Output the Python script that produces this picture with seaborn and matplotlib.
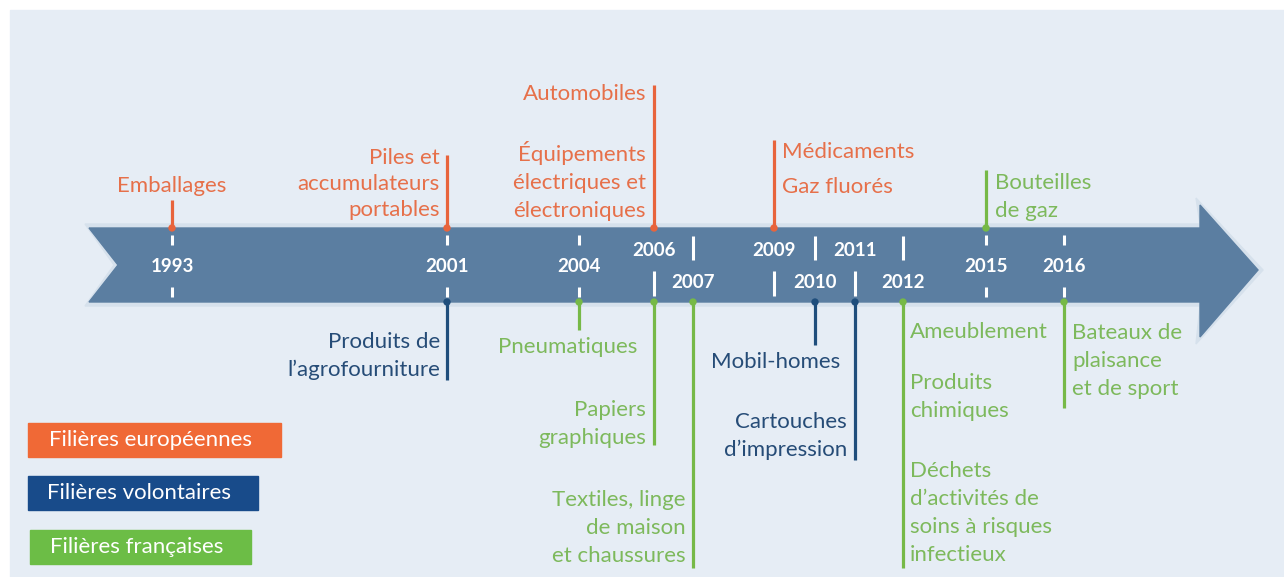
import matplotlib
matplotlib.use("Agg")
import matplotlib.pyplot as plt
from matplotlib.patches import Polygon, Rectangle
import pandas as pd
import seaborn as sns

# ---- data ------------------------------------------------------------------
years = [1993, 2001, 2004, 2006, 2007, 2009, 2010, 2011, 2012, 2015, 2016]

categories = ["Filières européennes", "Filières volontaires", "Filières françaises"]

# one stem per (year, side of the arrow)
stem_years = [1993, 2001, 2006, 2009, 2015, 2001, 2004, 2006, 2007, 2010, 2011, 2012, 2016]
stem_sides = ["up", "up", "up", "up", "up",
              "down", "down", "down", "down", "down", "down", "down", "down"]
stem_cats = ["Filières européennes"] * 4 + ["Filières françaises",
             "Filières volontaires", "Filières françaises", "Filières françaises",
             "Filières françaises", "Filières volontaires", "Filières volontaires",
             "Filières françaises", "Filières françaises"]

label_years = [1993, 2001, 2006, 2006, 2009, 2009, 2015,
               2001, 2004, 2006, 2007, 2010, 2011, 2012, 2012, 2012, 2016]
label_cats = ["Filières européennes"] * 6 + ["Filières françaises",
              "Filières volontaires", "Filières françaises", "Filières françaises",
              "Filières françaises", "Filières volontaires", "Filières volontaires",
              "Filières françaises", "Filières françaises", "Filières françaises",
              "Filières françaises"]
label_texts = [
    "Emballages",
    "Piles et\naccumulateurs\nportables",
    "Automobiles",
    "Équipements\nélectriques et\nélectroniques",
    "Médicaments",
    "Gaz fluorés",
    "Bouteilles\nde gaz",
    "Produits de\nl’agrofourniture",
    "Pneumatiques",
    "Papiers\ngraphiques",
    "Textiles, linge\nde maison\net chaussures",
    "Mobil-homes",
    "Cartouches\nd’impression",
    "Ameublement",
    "Produits\nchimiques",
    "Déchets\nd’activités de\nsoins à risques\ninfectieux",
    "Bateaux de\nplaisance\net de sport",
]

# ---- layout (pixel space of the 1284x577 canvas) ---------------------------
W, H = 1284, 577
year_x = {1993: 172, 2001: 447, 2004: 579, 2006: 654, 2007: 693, 2009: 774,
          2010: 815, 2011: 855, 2012: 903, 2015: 986, 2016: 1064}
year_row = {1993: "mid", 2001: "mid", 2004: "mid", 2015: "mid", 2016: "mid",
            2006: "high", 2009: "high", 2011: "high",
            2007: "low", 2010: "low", 2012: "low"}
body_top, body_bot = 228, 302
stem_reach = [200, 155, 85, 140, 170, 380, 330, 445, 568, 345, 460, 568, 408]
label_pos = [(0, 186, "center"), (-7, 184, "right"), (-8, 94, "right"),
             (-8, 181, "right"), (8, 152, "left"), (8, 187, "left"),
             (9, 197, "left"), (-7, 356, "right"), (-11, 347, "center"),
             (-8, 424, "right"), (-7, 528, "right"), (-39, 362, "center"),
             (-8, 436, "right"), (7, 332, "left"), (7, 397, "left"),
             (7, 513, "left"), (8, 361, "left")]
label_spacing = [1.5, 1.4] + [1.52] * 15

line_colors = {"Filières européennes": "#e8643c",
               "Filières volontaires": "#1f4e7c",
               "Filières françaises": "#76b947"}
text_colors = {"Filières européennes": "#e6704a",
               "Filières volontaires": "#264c77",
               "Filières françaises": "#7db95c"}
box_colors = {"Filières européennes": "#f06936",
              "Filières volontaires": "#184b8a",
              "Filières françaises": "#6cbd46"}
ARROW = "#5b7ea1"
PANEL = "#e6edf5"

sns.set_theme(style="white")
plt.rcParams["font.family"] = ["Lato", "DejaVu Sans"]

fig = plt.figure(figsize=(W / 100, H / 100), dpi=100, facecolor="white")
ax = fig.add_axes([0, 0, 1, 1])
ax.set_xlim(0, W)
ax.set_ylim(H, 0)
ax.axis("off")

ax.add_patch(Rectangle((10, 10), W - 10, H - 10, color=PANEL, zorder=0))

# the arrow
mid_y = (body_top + body_bot) / 2
outline = [(89, body_top), (1200, body_top), (1200, 205), (1258, 270),
           (1200, 337), (1200, body_bot), (89, body_bot), (118, mid_y)]
glow = [(x + dx, y + dy) for (x, y), (dx, dy) in zip(
    outline, [(-4, -4), (0, -4), (-4, -7), (5, 0), (-4, 7), (0, 4), (-4, 4), (-4, 0)])]
ax.add_patch(Polygon(glow, closed=True, color="#d6e1ec", zorder=1))
ax.add_patch(Polygon(outline, closed=True, color=ARROW, zorder=2))

# year labels and white ticks on the arrow
for yr in years:
    x = year_x[yr]
    row = year_row[yr]
    if row == "mid":
        ax.text(x, 267, str(yr), color="white", fontsize=13.5, fontweight="bold",
                ha="center", va="center", zorder=4)
        ax.vlines(x, 235, 245, color="white", lw=2.2, zorder=4)
        ax.vlines(x, 287, 297, color="white", lw=2.2, zorder=4)
    elif row == "high":
        ax.text(x, 251, str(yr), color="white", fontsize=13.5, fontweight="bold",
                ha="center", va="center", zorder=4)
        ax.vlines(x, 271, 296, color="white", lw=2.2, zorder=4)
    else:
        ax.text(x, 282, str(yr), color="white", fontsize=13.5, fontweight="bold",
                ha="center", va="center", zorder=4)
        ax.vlines(x, 236, 260, color="white", lw=2.2, zorder=4)

# stems and their dots on the arrow edge
stems = pd.DataFrame({"year": stem_years, "side": stem_sides,
                      "cat": stem_cats, "reach": stem_reach})
stems["x"] = stems["year"].map(year_x)
stems["edge"] = stems["side"].map({"up": body_top, "down": body_bot})
for _, r in stems.iterrows():
    ax.vlines(r["x"], r["edge"], r["reach"], color=line_colors[r["cat"]],
              lw=2.3, zorder=3)
sns.scatterplot(data=stems, x="x", y="edge", hue="cat", palette=line_colors,
                s=28, linewidth=0, legend=False, ax=ax, zorder=5)

# event labels
for yr, cat, txt, (dx, y, ha), ls in zip(label_years, label_cats, label_texts,
                                         label_pos, label_spacing):
    ax.text(year_x[yr] + dx, y, txt, color=text_colors[cat], fontsize=16,
            ha=ha, va="center", linespacing=ls, multialignment=ha,
            zorder=6)

# legend boxes
legend_boxes = [(28, 423, 253), (28, 476, 230), (30, 530, 221)]
for cat, (x0, y0, w) in zip(categories, legend_boxes):
    ax.add_patch(Rectangle((x0, y0), w, 34, color=box_colors[cat], zorder=3))
    ax.text(x0 + w / 2 - 4, y0 + 17, cat, color="white", fontsize=16,
            ha="center", va="center", zorder=4)

fig.savefig("out.png", dpi=100, facecolor="white")
